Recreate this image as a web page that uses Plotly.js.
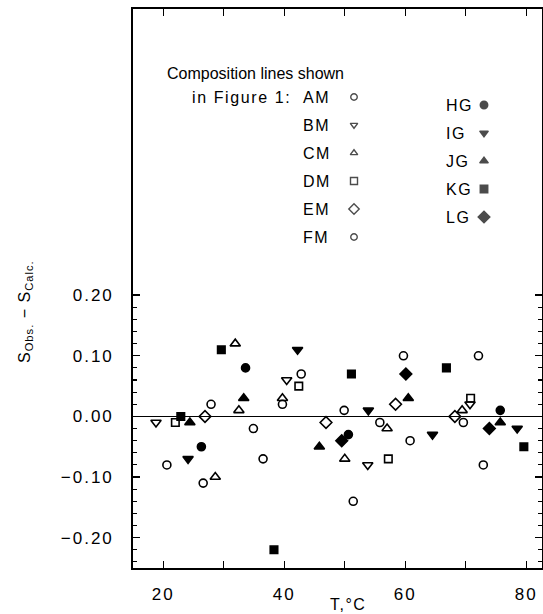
<!DOCTYPE html>
<html>
<head>
<meta charset="utf-8">
<script src="https://cdn.plot.ly/plotly-3.0.1.min.js"></script>
<style>
html,body{margin:0;padding:0;background:#fff;}
#chart{width:543px;height:614px;}
.xtick text, .ytick text { letter-spacing: 2px; }
</style>
</head>
<body>
<div id="chart"></div>
<script>
// ---- data (T in °C, S_obs - S_calc) ----
const amT = [20.6, 27.9, 36.5, 42.8, 51.4, 59.7, 69.6, 72.1];
const amS = [-0.08, 0.02, -0.07, 0.07, -0.14, 0.10, -0.01, 0.10];
const bmT = [18.8, 40.4, 53.8, 70.7];
const bmS = [-0.01, 0.06, -0.08, 0.02];
const cmT = [28.6, 31.9, 32.5, 39.7, 50.0, 57.0, 69.4];
const cmS = [-0.10, 0.12, 0.01, 0.03, -0.07, -0.02, 0.01];
const dmT = [22.0, 42.4, 57.2, 70.8];
const dmS = [-0.01, 0.05, -0.07, 0.03];
const emT = [26.9, 46.9, 58.4, 68.2];
const emS = [0.00, -0.01, 0.02, 0.00];
const fmT = [26.6, 34.9, 39.7, 49.9, 55.8, 60.8, 72.9];
const fmS = [-0.11, -0.02, 0.02, 0.01, -0.01, -0.04, -0.08];
const hgT = [26.3, 33.6, 50.6, 75.7];
const hgS = [-0.05, 0.08, -0.03, 0.01];
const igT = [24.1, 42.2, 53.9, 64.5, 78.5];
const igS = [-0.07, 0.11, 0.01, -0.03, -0.02];
const jgT = [24.4, 33.3, 45.8, 60.5, 75.7];
const jgS = [-0.01, 0.03, -0.05, 0.03, -0.01];
const kgT = [22.9, 29.6, 38.3, 51.1, 66.8, 79.6];
const kgS = [0.00, 0.11, -0.22, 0.07, 0.08, -0.05];
const lgT = [49.5, 60.1, 73.9];
const lgS = [-0.04, 0.07, -0.02];

const seriesNames = ['AM','BM','CM','DM','EM','FM','HG','IG','JG','KG','LG'];
const seriesSymbols = ['circle-open','triangle-down-open','triangle-up-open','square-open','diamond-open','circle-open',
                       'circle','triangle-down','triangle-up','square','diamond'];
const seriesT = [amT,bmT,cmT,dmT,emT,fmT,hgT,igT,jgT,kgT,lgT];
const seriesS = [amS,bmS,cmS,dmS,emS,fmS,hgS,igS,jgS,kgS,lgS];

const xTickVals = [20,40,60,80];
const xTickText = ['20','40','60','80'];
const xMinorVals = [30,50,70];
const yTickVals = [-0.2,-0.1,0,0.1,0.2];
const yTickText = ['\u22120.20','\u22120.10','0.00','0.10','0.20'];
const yMinorVals = [-0.24,-0.22,-0.18,-0.16,-0.14,-0.12,-0.08,-0.06,-0.04,-0.02,0.02,0.04,0.06,0.08,0.12,0.14,0.16,0.18];

const legendTitle = 'Composition lines shown';
const legendSub = 'in Figure 1:';
const leftCol = ['AM','BM','CM','DM','EM','FM'];
const rightCol = ['HG','IG','JG','KG','LG'];

// ---- layout geometry helpers (pixels -> paper fractions) ----
const W = 543, H = 614, L = 133, R = 1, T = 9, B = 46;
const PW = W - L - R, PH = H - T - B;
const fx = px => (px - L) / PW;
const fy = py => (H - B - py) / PH;

const FONT = 'Liberation Sans, Arial, sans-serif';
const sizeFor = s => (s.indexOf('triangle') >= 0 || s.indexOf('diamond') >= 0) ? 9 : (s.indexOf('square') >= 0 ? 7.5 : 8);
const sp = (t, s) => '<span style="letter-spacing:' + s + 'px">' + t + '</span>';

const traces = seriesNames.map((n, i) => ({
  type: 'scatter', mode: 'markers', name: n,
  x: seriesT[i], y: seriesS[i],
  marker: {symbol: seriesSymbols[i], size: sizeFor(seriesSymbols[i]), color: '#000',
           line: {color: '#000', width: 1.6}},
  cliponaxis: false, hoverinfo: 'skip'
}));

// legend symbols on an overlay axis in paper-like units
const legX = [], legY = [], legSym = [], legSize = [];
const annotations = [];
const tf = {family:FONT, size:16, color:'#000'};
annotations.push({xref:'paper', yref:'paper', x: fx(165), y: fy(74), xanchor:'left', yanchor:'middle',
  text: legendTitle, showarrow:false, font: tf});
annotations.push({xref:'paper', yref:'paper', x: fx(190), y: fy(97), xanchor:'left', yanchor:'middle',
  text: sp(legendSub, 1.6), showarrow:false, font: tf});
leftCol.forEach((n, i) => {
  const py = 97 + i * 28;
  annotations.push({xref:'paper', yref:'paper', x: fx(301), y: fy(py), xanchor:'left', yanchor:'middle',
    text: sp(n, 1.5), showarrow:false, font: tf});
  const s = seriesSymbols[seriesNames.indexOf(n)];
  legX.push(fx(354)); legY.push(fy(py)); legSym.push(s);
  legSize.push(s.indexOf('square') >= 0 ? 7 : (s.indexOf('diamond') >= 0 ? 8 : 6.5));
});
rightCol.forEach((n, i) => {
  const py = 105 + i * 28;
  annotations.push({xref:'paper', yref:'paper', x: fx(444), y: fy(py), xanchor:'left', yanchor:'middle',
    text: sp(n, 1.5), showarrow:false, font: tf});
  const s = seriesSymbols[seriesNames.indexOf(n)];
  legX.push(fx(484)); legY.push(fy(py)); legSym.push(s);
  legSize.push(s.indexOf('diamond') >= 0 ? 9 : 7.5);
});
traces.push({type:'scatter', mode:'markers', x: legX, y: legY, xaxis:'x2', yaxis:'y2',
  marker:{symbol: legSym, size: legSize, color:'#000', line:{color:'#000', width:1.4}},
  hoverinfo:'skip', showlegend:false});

// axis titles
annotations.push({xref:'paper', yref:'paper', x: fx(25), y: fy(312), xanchor:'center', yanchor:'middle',
  textangle:-90, text: sp('S<sub>Obs.</sub> \u2212 S<sub>Calc.</sub>', 1), showarrow:false, font: tf});
annotations.push({xref:'paper', yref:'paper', x: fx(348), y: fy(604), xanchor:'center', yanchor:'middle',
  text: sp('T,°C', 1.5), showarrow:false, font: tf});

const layout = {
  width: W, height: H,
  margin: {l: L, r: R, t: T, b: B, pad: 0},
  paper_bgcolor: '#fff', plot_bgcolor: '#fff',
  showlegend: false,
  font: {family: FONT, size: 16, color: '#000'},
  xaxis: {
    range: [15, 82.6], tickmode:'array', tickvals: xTickVals, ticktext: xTickText,
    ticks:'inside', ticklen: 7, tickwidth: 1.4, tickcolor:'#000',
    minor: {tickmode:'array', tickvals: xMinorVals, ticks:'inside', ticklen: 7, tickwidth: 1.4, tickcolor:'#000', showgrid:false},
    showline:true, linecolor:'#000', linewidth:1.8, mirror:'ticks',
    showgrid:false, zeroline:false, ticklabelstandoff: 10,
    tickfont:{family:FONT, size:17, color:'#000'}
  },
  yaxis: {
    range: [-0.25, 0.672], tickmode:'array', tickvals: yTickVals, ticktext: yTickText,
    ticks:'inside', ticklen: 7, tickwidth: 1.4, tickcolor:'#000',
    minor: {tickmode:'array', tickvals: yMinorVals, ticks:'inside', ticklen: 4, tickwidth: 1.1, tickcolor:'#000', showgrid:false},
    showline:true, linecolor:'#000', linewidth:1.8, mirror:'ticks',
    showgrid:false, zeroline:true, zerolinecolor:'#000', zerolinewidth:1.8,
    ticklabelstandoff: 14,
    tickfont:{family:FONT, size:17, color:'#000'}
  },
  xaxis2: {overlaying:'x', range:[0,1], visible:false, anchor:'y2'},
  yaxis2: {overlaying:'y', range:[0,1], visible:false, anchor:'x2'},
  annotations: annotations
};

Plotly.newPlot('chart', traces, layout, {staticPlot:true, displayModeBar:false});
</script>
</body>
</html>
